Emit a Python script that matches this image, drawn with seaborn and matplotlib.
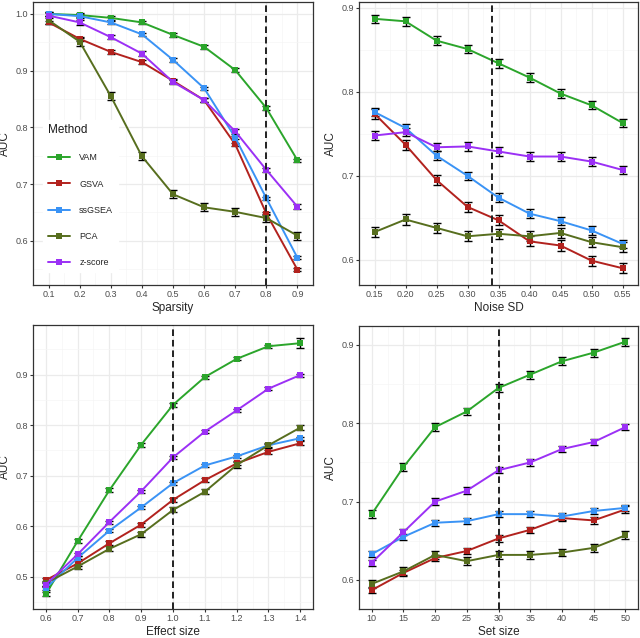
import numpy as np
import pandas as pd
import matplotlib
matplotlib.use("Agg")
import matplotlib.pyplot as plt
import seaborn as sns
from matplotlib.ticker import MultipleLocator, FixedLocator

methods = ["VAM", "GSVA", "ssGSEA", "PCA", "z-score"]
colors = ["#2BA52B", "#B2221E", "#3A93F5", "#576E1E", "#9B30F5"]

# Panel 1: Sparsity
sparsity = [0.1, 0.2, 0.3, 0.4, 0.5, 0.6, 0.7, 0.8, 0.9]
sp_vam = [1.000, 0.998, 0.993, 0.985, 0.963, 0.942, 0.901, 0.834, 0.742]
sp_gsva = [0.985, 0.956, 0.933, 0.915, 0.882, 0.848, 0.770, 0.648, 0.549]
sp_ssgsea = [1.000, 0.996, 0.985, 0.964, 0.919, 0.869, 0.782, 0.675, 0.570]
sp_pca = [0.989, 0.951, 0.855, 0.749, 0.682, 0.659, 0.651, 0.640, 0.609]
sp_z = [0.997, 0.985, 0.959, 0.930, 0.880, 0.848, 0.793, 0.725, 0.660]
sp_err = [0.003, 0.003, 0.003, 0.007, 0.004]

# Panel 2: Noise SD
noise = [0.15, 0.20, 0.25, 0.30, 0.35, 0.40, 0.45, 0.50, 0.55]
ns_vam = [0.887, 0.884, 0.861, 0.851, 0.834, 0.817, 0.798, 0.784, 0.763]
ns_gsva = [0.774, 0.737, 0.695, 0.663, 0.647, 0.622, 0.617, 0.599, 0.590]
ns_ssgsea = [0.776, 0.757, 0.724, 0.700, 0.674, 0.655, 0.646, 0.635, 0.619]
ns_pca = [0.633, 0.648, 0.638, 0.628, 0.631, 0.628, 0.632, 0.621, 0.615]
ns_z = [0.748, 0.752, 0.734, 0.735, 0.729, 0.723, 0.723, 0.717, 0.707]
ns_err = [0.005, 0.006, 0.005, 0.006, 0.005]

# Panel 3: Effect size
effect = [0.6, 0.7, 0.8, 0.9, 1.0, 1.1, 1.2, 1.3, 1.4]
ef_vam = [0.465, 0.570, 0.671, 0.761, 0.840, 0.895, 0.931, 0.956, 0.962]
ef_gsva = [0.493, 0.526, 0.566, 0.603, 0.652, 0.691, 0.724, 0.747, 0.764]
ef_ssgsea = [0.477, 0.537, 0.591, 0.637, 0.685, 0.720, 0.738, 0.760, 0.774]
ef_pca = [0.487, 0.520, 0.555, 0.584, 0.632, 0.668, 0.721, 0.760, 0.795]
ef_z = [0.484, 0.544, 0.608, 0.669, 0.736, 0.787, 0.829, 0.872, 0.899]
ef_vam_err = [0.004, 0.004, 0.004, 0.004, 0.004, 0.003, 0.003, 0.003, 0.010]
ef_err = [ef_vam_err, 0.004, 0.003, 0.005, 0.003]

# Panel 4: Set size
setsize = [10, 15, 20, 25, 30, 35, 40, 45, 50]
ss_vam = [0.684, 0.744, 0.795, 0.815, 0.845, 0.862, 0.879, 0.890, 0.904]
ss_gsva = [0.587, 0.609, 0.628, 0.637, 0.653, 0.664, 0.679, 0.676, 0.690]
ss_ssgsea = [0.633, 0.655, 0.673, 0.675, 0.684, 0.684, 0.681, 0.688, 0.692]
ss_pca = [0.595, 0.611, 0.632, 0.624, 0.632, 0.632, 0.635, 0.641, 0.657]
ss_z = [0.622, 0.661, 0.700, 0.714, 0.740, 0.750, 0.767, 0.776, 0.795]
ss_err = [0.005, 0.004, 0.004, 0.005, 0.004]

panels = [
    dict(x=sparsity, ys=[sp_vam, sp_gsva, sp_ssgsea, sp_pca, sp_z], err=sp_err,
         xlabel="Sparsity", vline=0.8, xlim=(0.05, 0.95), ylim=(0.522, 1.021),
         xticks=sparsity, xfmt="{:.1f}", yticks=[0.6, 0.7, 0.8, 0.9, 1.0], ystep=0.05,
         rect=[33/640, 1-285/638, 280/640, 283/638]),
    dict(x=noise, ys=[ns_vam, ns_gsva, ns_ssgsea, ns_pca, ns_z], err=ns_err,
         xlabel="Noise SD", vline=0.34, xlim=(0.125, 0.575), ylim=(0.570, 0.907),
         xticks=noise, xfmt="{:.2f}", yticks=[0.6, 0.7, 0.8, 0.9], ystep=0.05,
         rect=[359/640, 1-285/638, 279/640, 283/638]),
    dict(x=effect, ys=[ef_vam, ef_gsva, ef_ssgsea, ef_pca, ef_z], err=ef_err,
         xlabel="Effect size", vline=1.0, xlim=(0.56, 1.44), ylim=(0.436, 0.998),
         xticks=effect, xfmt="{:.1f}", yticks=[0.5, 0.6, 0.7, 0.8, 0.9], ystep=0.05,
         rect=[33/640, 1-609/638, 280/640, 284/638]),
    dict(x=setsize, ys=[ss_vam, ss_gsva, ss_ssgsea, ss_pca, ss_z], err=ss_err,
         xlabel="Set size", vline=30, xlim=(8, 52), ylim=(0.563, 0.924),
         xticks=setsize, xfmt="{:d}", yticks=[0.6, 0.7, 0.8, 0.9], ystep=0.05,
         rect=[359/640, 1-609/638, 279/640, 283/638]),
]

sns.set_theme(style="whitegrid")
plt.rcParams["font.family"] = ["Liberation Sans", "DejaVu Sans"]

fig = plt.figure(figsize=(6.4, 6.38), dpi=100)
palette = dict(zip(methods, colors))

for i, p in enumerate(panels):
    ax = fig.add_axes(p["rect"])
    rows = []
    for m, y, e in zip(methods, p["ys"], p["err"]):
        errs = e if isinstance(e, list) else [e] * len(y)
        for xv, yv, ev in zip(p["x"], y, errs):
            rows.append(dict(x=xv, AUC=yv, Method=m, err=ev))
    df = pd.DataFrame(rows)
    for m in methods:
        d = df[df.Method == m]
        ax.errorbar(d["x"], d["AUC"], yerr=d["err"], fmt="none", ecolor="black",
                    elinewidth=1.0, capsize=2.6, capthick=1.0, zorder=2)
    sns.lineplot(data=df, x="x", y="AUC", hue="Method", hue_order=methods,
                 palette=palette, marker="s", markersize=4.5, markeredgewidth=0,
                 linewidth=1.4, ax=ax, legend=(i == 0), zorder=3, errorbar=None)
    ax.axvline(p["vline"], color="#222222", linestyle=(0, (3.4, 2.0)), linewidth=1.4, zorder=4)
    ax.set_xlim(*p["xlim"])
    ax.set_ylim(*p["ylim"])
    ax.set_xticks(p["xticks"])
    ax.set_xticklabels([p["xfmt"].format(v) for v in p["xticks"]])
    ax.set_yticks(p["yticks"])
    ax.set_yticklabels([f"{v:.1f}" for v in p["yticks"]])
    xt = p["xticks"]
    step = xt[1] - xt[0]
    ax.xaxis.set_minor_locator(FixedLocator([v + step / 2 for v in xt[:-1]]))
    ax.yaxis.set_minor_locator(MultipleLocator(p["ystep"]))
    ax.grid(which="major", color="#EBEBEB", linewidth=0.9)
    ax.grid(which="minor", color="#F5F5F5", linewidth=0.5)
    ax.set_axisbelow(True)
    for s in ax.spines.values():
        s.set_color("#333333")
        s.set_linewidth(0.9)
    ax.tick_params(axis="both", which="major", labelsize=6.5, length=2.0, width=0.8,
                   color="#333333", labelcolor="#4D4D4D", pad=1.5, left=True, bottom=True)
    ax.tick_params(axis="both", which="minor", length=0)
    ax.set_xlabel(p["xlabel"], fontsize=8.5, labelpad=2)
    ax.set_ylabel("AUC", fontsize=8.5, labelpad=3.5)
    if i == 0:
        leg = ax.legend(title="Method", loc="upper left", bbox_to_anchor=(0.02, 0.6),
                        frameon=True, fontsize=6.5, title_fontsize=8.5, labelspacing=1.9,
                        handlelength=2.5, handletextpad=1.0, borderpad=0.5)
        leg.get_frame().set_facecolor("white")
        leg.get_frame().set_edgecolor("white")
        leg.get_frame().set_alpha(1)
        leg.set_zorder(1)
        leg._legend_box.align = "left"
        leg.get_title().set_color("#1A1A1A")

fig.savefig("out.png", dpi=100)
